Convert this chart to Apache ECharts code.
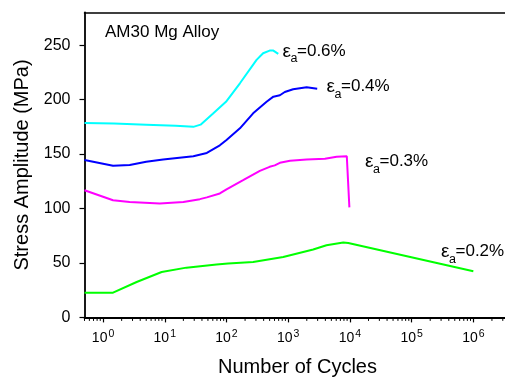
<!DOCTYPE html>
<html>
<head>
<meta charset="utf-8">
<script src="https://cdn.jsdelivr.net/npm/echarts@6/dist/echarts.min.js"></script>
<style>html,body{margin:0;padding:0;background:#fff;overflow:hidden}#c{width:505px;height:377px}</style>
</head>
<body>
<div id="c"></div>
<script>
// ---- data ----
const cyanN = [0.5, 1.5, 5, 15, 29, 38, 60, 98, 165, 307, 392, 500, 575, 690];
const cyanV = [178.5, 178, 177, 176, 175, 177, 187, 198, 215, 236.5, 242.6, 245, 245, 242];

const blueN = [0.5, 1.45, 2.7, 5, 9.4, 29, 48, 78, 100, 165, 270, 446, 575, 733, 880, 1200, 1990, 2950];
const blueV = [144.5, 139.2, 140, 143, 145, 148, 151, 158, 163, 173.6, 187.4, 198, 202.7, 204, 207, 209.5, 211.3, 210];

const magN = [0.5, 1.45, 2.7, 8.3, 20, 37, 48, 78, 100, 186, 347, 500, 605, 733, 1070, 1990, 3940, 6090, 8900, 9800];
const magV = [116.8, 107.6, 106, 104.6, 106, 108.6, 110.2, 113.8, 117.5, 126, 134.6, 138.3, 139.6, 142, 143.8, 145, 145.6, 147.5, 148, 101];

const greenN = [0.5, 1.45, 3.5, 8.9, 22.4, 69, 106, 270, 830, 2540, 4170, 7800, 9400, 1e6];
const greenV = [22.7, 22.7, 32.5, 41.7, 45.7, 48.5, 49.4, 50.9, 55.5, 62.3, 66.3, 68.7, 68.4, 42.3];

const xTickValues = [1, 10, 100, 1000, 10000, 100000, 1000000];
const xMinorMult = [2, 3, 4, 5, 6, 7, 8, 9];
const xDecades = [0.1, 1, 10, 100, 1000, 10000, 100000, 1000000];
const yTickValues = [0, 50, 100, 150, 200, 250];

const labels = ['0.6%', '0.4%', '0.3%', '0.2%'];
const title = 'AM30 Mg Alloy';

// ---- build ----
const X_MIN = 0.5, X_MAX = 4e6;
const minorTicks = [];
xDecades.forEach(d => xMinorMult.forEach(m => {
  const v = m * d;
  if (v >= X_MIN && v <= X_MAX) minorTicks.push([v, 0]);
}));
const zip = (a, b) => a.map((v, i) => [v, b[i]]);
const FONT = 'Liberation Sans, Arial, Helvetica, sans-serif';

function lineSeries(n, v, color) {
  return { type: 'line', data: zip(n, v), showSymbol: false, symbol: 'none',
    lineStyle: { color: color, width: 2 }, itemStyle: { color: color },
    clip: false, z: 3 };
}

function annot(x, y, txt) {
  return { type: 'group', x: x, y: y, children: [
    { type: 'text', x: 0, y: 0.5, style: { text: 'ε', font: '19px ' + FONT, fill: '#000', textVerticalAlign: 'middle' } },
    { type: 'text', x: 8, y: 8, style: { text: 'a', font: '12.5px ' + FONT, fill: '#000', textVerticalAlign: 'middle' } },
    { type: 'text', x: 14.5, y: 0, style: { text: '=' + txt, font: '17px ' + FONT, fill: '#000', textVerticalAlign: 'middle' } }
  ]};
}

const chart = echarts.init(document.getElementById('c'), null, { renderer: 'canvas' });
chart.setOption({
  animation: false,
  backgroundColor: '#fff',
  grid: { left: 84.5, top: 12.5, bottom: 59.6, width: 426, show: false,
    containLabel: false, outerBoundsMode: 'none' },
  xAxis: [{
    type: 'log', min: X_MIN, max: X_MAX, logBase: 10,
    name: 'Number of Cycles', nameLocation: 'middle', nameGap: 40,
    nameTextStyle: { fontFamily: FONT, fontSize: 20, color: '#000' },
    axisLine: { onZero: false, lineStyle: { color: '#000', width: 1.8 } },
    axisTick: { show: true, inside: false, length: 5, lineStyle: { color: '#000', width: 1.2 }, customValues: xTickValues },
    splitLine: { show: false },
    minorTick: { show: false },
    minorSplitLine: { show: false },
    axisLabel: {
      customValues: xTickValues,
      margin: 13,
      formatter: function (v) {
        const e = Math.round(Math.log10(v));
        return '{b|10}{s|' + e + '}';
      },
      rich: {
        b: { fontFamily: FONT, fontSize: 14, color: '#000', lineHeight: 16 },
        s: { fontFamily: FONT, fontSize: 10.5, color: '#000', lineHeight: 16, padding: [0, 0, 9, 1] }
      }
    }
  }, {
    type: 'log', min: X_MIN, max: X_MAX, logBase: 10, position: 'top',
    axisLine: { show: true, onZero: false, lineStyle: { color: '#000', width: 1.5 } },
    axisTick: { show: false }, axisLabel: { show: false }, splitLine: { show: false }
  }],
  yAxis: {
    type: 'value', min: 0, max: 280, interval: 50,
    name: 'Stress Amplitude (MPa)', nameLocation: 'middle', nameGap: 50,
    nameTextStyle: { fontFamily: FONT, fontSize: 20, color: '#000' },
    axisLine: { show: true, onZero: false, lineStyle: { color: '#000', width: 1.8 } },
    axisTick: { show: true, length: 5, lineStyle: { color: '#000', width: 1.2 }, customValues: yTickValues },
    axisLabel: { customValues: yTickValues, margin: 14, fontFamily: FONT, fontSize: 16, color: '#000' },
    splitLine: { show: false }
  },
  graphic: [
    { type: 'text', x: 105, y: 32.5, style: { text: title, font: '17px ' + FONT, fill: '#000', textVerticalAlign: 'middle' } },
    annot(282.5, 51, labels[0]),
    annot(326.5, 86.5, labels[1]),
    annot(365, 161.5, labels[2]),
    annot(441, 251.5, labels[3])
  ],
  series: [
    lineSeries(cyanN, cyanV, '#00ffff'),
    lineSeries(blueN, blueV, '#0000ff'),
    lineSeries(magN, magV, '#ff00ff'),
    lineSeries(greenN, greenV, '#00ff00'),
    {
      type: 'custom', data: minorTicks, clip: false, silent: true, z: 1,
      renderItem: function (params, api) {
        const p = api.coord([api.value(0), 0]);
        return { type: 'line', shape: { x1: p[0], y1: p[1], x2: p[0], y2: p[1] + 3.5 },
          style: { stroke: '#000', lineWidth: 1 } };
      }
    }
  ]
});
</script>
</body>
</html>
